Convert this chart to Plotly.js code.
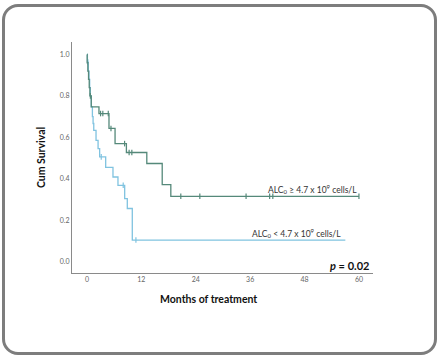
<!DOCTYPE html>
<html>
<head>
<meta charset="utf-8">
<script src="https://cdn.plot.ly/plotly-3.0.1.min.js"></script>
<style>
  html, body { margin: 0; padding: 0; background: #ffffff; }
  #wrap { position: relative; width: 439px; height: 361px; }
  #chart { position: absolute; left: 0; top: 0; width: 439px; height: 361px; }
  #frame { position: absolute; left: 2px; top: 4px; width: 435px; height: 351px; box-sizing: border-box;
           border: 3px solid #7d7d7d; border-radius: 16px; pointer-events: none; }
</style>
</head>
<body>
<div id="wrap"><div id="chart"></div><div id="frame"></div></div>
<script>
// High ALC group (ALC0 >= 4.7 x 10^9 cells/L)
const highTime = [0, 0.05, 0.2, 0.35, 0.5, 0.65, 0.95, 2.65, 4.86, 6.2, 8.7, 13.2, 16.6, 18.5];
const highSurv = [1.0, 0.96, 0.92, 0.88, 0.84, 0.80, 0.747, 0.715, 0.643, 0.570, 0.527, 0.474, 0.372, 0.316];
const highCensored = [0.75, 3.0, 3.5, 4.7, 5.3, 8.3, 9.3, 9.9, 20.7, 24.9, 35.1, 40.3, 41.0, 60];
const highEnd = 60;

// Low ALC group (ALC0 < 4.7 x 10^9 cells/L)
const lowTime = [0, 0.1, 0.3, 0.45, 0.6, 0.75, 0.95, 1.2, 1.35, 1.5, 2.0, 2.45, 2.8, 4.13, 5.74, 6.84, 8.32, 8.9, 10.0];
const lowSurv = [1.0, 0.963, 0.92, 0.88, 0.84, 0.80, 0.747, 0.70, 0.667, 0.634, 0.586, 0.546, 0.506, 0.455, 0.409, 0.369, 0.305, 0.257, 0.105];
const lowCensored = [0.2, 3.15, 8.0, 10.8];
const lowEnd = 57;

const xTicks = [0, 12, 24, 36, 48, 60];
const yTicks = [0.0, 0.2, 0.4, 0.6, 0.8, 1.0];

const xTitle = '<b>Months of treatment</b>';
const yTitle = '<b>Cum Survival</b>';
const highLabel = 'ALC<sub>0</sub> \u2265 4.7 x 10<sup>9</sup> cells/L';
const lowLabel = 'ALC<sub>0</sub> < 4.7 x 10<sup>9</sup> cells/L';
const pLabel = '<b><i>p</i> = 0.02</b>';

const greenCol = '#55897a';
const blueCol = '#80c3e0';

function survAt(times, surv, t) {
  let s = surv[0];
  for (let i = 0; i < times.length; i++) { if (times[i] <= t) s = surv[i]; }
  return s;
}
function stepLine(times, surv, end) {
  return { x: times.concat([end]), y: surv.concat([surv[surv.length - 1]]) };
}

const hl = stepLine(highTime, highSurv, highEnd);
const ll = stepLine(lowTime, lowSurv, lowEnd);

const traces = [
  { x: ll.x, y: ll.y, mode: 'lines', line: { shape: 'hv', color: blueCol, width: 1.3 }, hoverinfo: 'skip' },
  { x: lowCensored, y: lowCensored.map(t => survAt(lowTime, lowSurv, t)), mode: 'markers',
    marker: { symbol: 'line-ns', size: 4, line: { color: blueCol, width: 1.2 } }, hoverinfo: 'skip' },
  { x: hl.x, y: hl.y, mode: 'lines', line: { shape: 'hv', color: greenCol, width: 1.3 }, hoverinfo: 'skip' },
  { x: highCensored, y: highCensored.map(t => survAt(highTime, highSurv, t)), mode: 'markers',
    marker: { symbol: 'line-ns', size: 4, line: { color: greenCol, width: 1.2 } }, hoverinfo: 'skip' }
];

const layout = {
  width: 439, height: 361,
  margin: { l: 72, r: 66, t: 42, b: 88 },
  paper_bgcolor: '#ffffff', plot_bgcolor: '#ffffff',
  showlegend: false,
  font: { family: 'Lato, "Open Sans", sans-serif', color: '#333' },
  xaxis: {
    range: [-3.3, 63.1], tickvals: xTicks, ticktext: xTicks.map(String),
    showgrid: false, zeroline: false, showline: true, linecolor: '#8a8a8a', linewidth: 1,
    ticks: '', tickfont: { size: 7, color: '#666' }
  },
  yaxis: {
    range: [-0.054, 1.06], tickvals: yTicks, ticktext: yTicks.map(v => v.toFixed(1)),
    showgrid: false, zeroline: false, showline: true, linecolor: '#8a8a8a', linewidth: 1,
    ticks: '', tickfont: { size: 7, color: '#666' },
    title: { text: yTitle, font: { size: 10.5, color: '#111' }, standoff: 12 }
  },
  annotations: [
    { x: 0.455, y: -0.113, xref: 'paper', yref: 'paper', text: xTitle, showarrow: false,
      font: { size: 10.5, color: '#111' }, xanchor: 'center', yanchor: 'middle' },
    { x: 49.7, y: 0.35, xref: 'x', yref: 'y', text: highLabel, showarrow: false,
      font: { size: 8.5, color: '#333' }, xanchor: 'center', yanchor: 'middle' },
    { x: 46.2, y: 0.138, xref: 'x', yref: 'y', text: lowLabel, showarrow: false,
      font: { size: 8.5, color: '#333' }, xanchor: 'center', yanchor: 'middle' },
    { x: 62.7, y: -0.02, xref: 'x', yref: 'y', text: pLabel, showarrow: false,
      font: { size: 11, color: '#111' }, xanchor: 'right', yanchor: 'middle' }
  ]
};

Plotly.newPlot('chart', traces, layout, { staticPlot: true, displayModeBar: false });
</script>
</body>
</html>
